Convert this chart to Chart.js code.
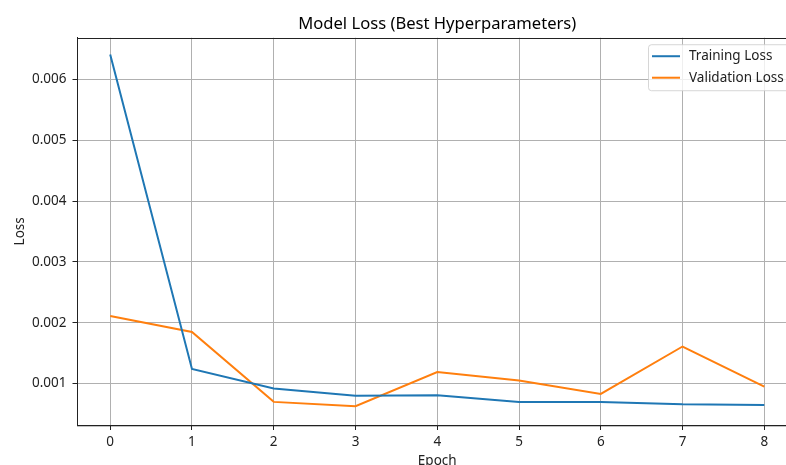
<!DOCTYPE html>
<html>
<head>
<meta charset="utf-8">
<script src="https://cdn.jsdelivr.net/npm/chart.js@4/dist/chart.umd.min.js"></script>
<style>
  html, body { margin: 0; padding: 0; background: #fff; overflow: hidden; }
  #wrap { position: absolute; left: 0; top: 0; width: 820px; height: 480px; }
</style>
</head>
<body>
<div id="wrap"><canvas id="lossChart" width="820" height="480"></canvas></div>
<script>
const epochs = [0, 1, 2, 3, 4, 5, 6, 7, 8]
const trainingLoss = [0.00641, 0.00124, 0.00092, 0.00080, 0.00081, 0.00070, 0.00070, 0.00066, 0.00065]
const validationLoss = [0.00211, 0.00185, 0.00070, 0.00063, 0.00119, 0.00105, 0.00083, 0.00161, 0.00095]
const yTicks = [0.001, 0.002, 0.003, 0.004, 0.005, 0.006]

Chart.defaults.font.family = '"Noto Sans"'
Chart.defaults.color = '#222'

// matplotlib-like frame + legend box in the upper right
const framePlugin = {
    id: 'frame',
    afterLayout(chart) {
        // center the title over the plot area, like matplotlib does
        const t = chart.titleBlock
        const a = chart.chartArea
        if (t) {
            t.left = a.left
            t.right = a.right
            t.width = a.right - a.left
        }
    },
    afterDraw(chart) {
        const { ctx, chartArea: a } = chart
        ctx.save()
        ctx.strokeStyle = '#222'
        ctx.lineWidth = 1
        ctx.strokeRect(Math.round(a.left) - 0.5, Math.round(a.top) + 0.5, a.right - a.left, a.bottom - a.top)

        // legend
        const w = 142, h = 46
        const x = 648, y = a.top + 6.5
        ctx.globalAlpha = 0.8
        ctx.fillStyle = '#fff'
        ctx.strokeStyle = '#ccc'
        ctx.beginPath()
        ctx.roundRect(x + 0.5, y + 0.5, w, h, 3)
        ctx.fill()
        ctx.stroke()
        ctx.globalAlpha = 1
        ctx.font = '13.5px "Noto Sans"'
        ctx.textBaseline = 'middle'
        chart.data.datasets.forEach((ds, i) => {
            const ly = y + 12 + i * 21.5
            ctx.strokeStyle = ds.borderColor
            ctx.lineWidth = 2
            ctx.beginPath()
            ctx.moveTo(x + 4, ly)
            ctx.lineTo(x + 32, ly)
            ctx.stroke()
            ctx.fillStyle = '#222'
            ctx.fillText(ds.label, x + 41, ly)
        })
        ctx.restore()
    }
}

const toPoints = arr => arr.map((v, i) => ({ x: epochs[i], y: v }))

new Chart(document.getElementById('lossChart').getContext('2d'), {
    type: 'line',
    data: {
        datasets: [{
            label: 'Training Loss',
            data: toPoints(trainingLoss),
            borderColor: '#1f77b4',
            borderWidth: 2,
            fill: false,
        }, {
            label: 'Validation Loss',
            data: toPoints(validationLoss),
            borderColor: '#ff7f0e',
            borderWidth: 2,
            fill: false,
        }]
    },
    options: {
        responsive: false,
        animation: false,
        layout: {
            padding: { left: 0, right: 23, top: 0, bottom: 0 }
        },
        plugins: {
            legend: { display: false },
            tooltip: { enabled: false },
            title: {
                display: true,
                text: 'Model Loss (Best Hyperparameters)',
                color: '#000',
                font: { size: 16.6, weight: 'normal' },
                padding: { top: 14.5, bottom: 3.3 },
            },
        },
        elements: {
            point: { radius: 0 },
            line: { tension: 0 },
        },
        scales: {
            x: {
                type: 'linear',
                min: -0.4,
                max: 8.4,
                afterBuildTicks: scale => {
                    scale.ticks = epochs.map(v => ({ value: v }))
                },
                afterFit: scale => { scale.height = 55 },
                ticks: {
                    font: { size: 13.5 },
                    padding: 4,
                    maxRotation: 0,
                    callback: v => String(v),
                },
                grid: {
                    color: '#b0b0b0',
                    lineWidth: 1,
                    tickLength: 5,
                    tickColor: '#222',
                },
                border: { color: '#222', width: 1 },
                title: {
                    display: true,
                    text: 'Epoch',
                    font: { size: 13.5 },
                    padding: { top: 0, bottom: 11 },
                },
            },
            y: {
                min: 0.00032,
                max: 0.006685,
                afterBuildTicks: scale => {
                    scale.ticks = yTicks.map(v => ({ value: v }))
                },
                afterFit: scale => { scale.width = 77.5 },
                ticks: {
                    font: { size: 13.5 },
                    padding: 6,
                    callback: v => v.toFixed(3),
                },
                grid: {
                    color: '#b0b0b0',
                    lineWidth: 1,
                    tickLength: 5,
                    tickColor: '#222',
                },
                border: { color: '#222', width: 1 },
                title: {
                    display: true,
                    text: 'Loss',
                    font: { size: 13.5 },
                    padding: { top: 12, bottom: 0 },
                },
            },
        },
    },
    plugins: [framePlugin],
})
</script>
</body>
</html>
